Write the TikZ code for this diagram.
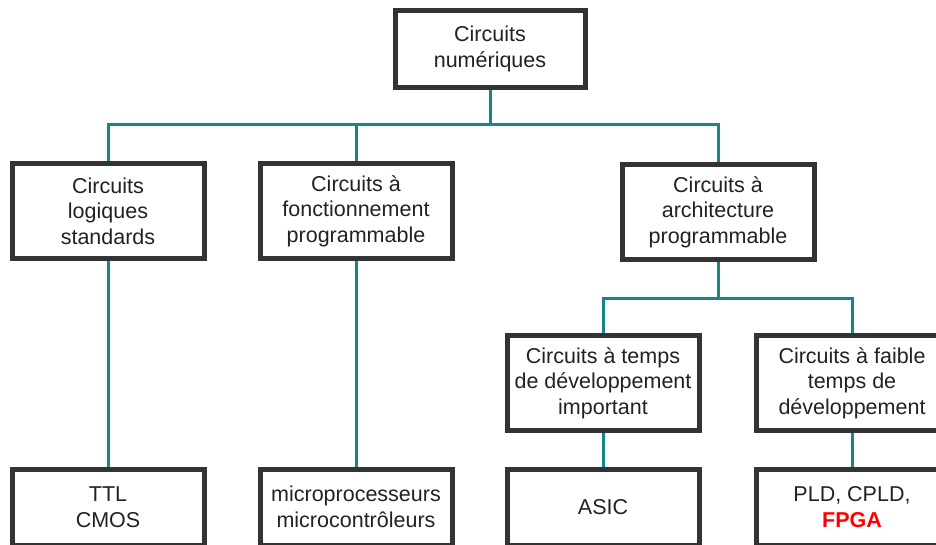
\documentclass[tikz,border=0pt]{standalone}
\usepackage{fontspec}
\setmainfont{Liberation Sans}
\usetikzlibrary{positioning}

\definecolor{bordo}{RGB}{51,51,51}
\definecolor{lien}{RGB}{22,134,134}
\definecolor{texte}{RGB}{34,34,34}

\tikzset{
    boite/.style={draw=bordo, line width=5pt, fill=white, text=texte,
        minimum width=192pt, minimum height=95pt, align=center,
        font=\fontsize{21.5}{25.5}\selectfont},
    lien/.style={draw=lien, line width=3pt}
}

\begin{document}
\begin{tikzpicture}[x=1pt,y=-1pt]
            \useasboundingbox (0,0) rectangle (936,544);

            \coordinate (j1) at (490,124);
            \coordinate (j2) at (718,298);

            \node[boite, minimum width=190pt, minimum height=77pt] (num) at (490,49) {Circuits\\numériques};

            \node[boite] (std) at (108,211) {Circuits\\logiques\\standards};
            \node[boite] (fonc) at (356,211) {Circuits à\\fonctionnement\\programmable};
            \node[boite] (arch) at (718,212) {Circuits à\\architecture\\programmable};

            \node[boite] (imp) at (603,383) {Circuits à temps\\de développement\\important};
            \node[boite] (faib) at (852,383) {Circuits à faible\\temps de\\développement};

            \node[boite, minimum height=76pt] (ttl) at (108,507) {TTL\\CMOS};
            \node[boite, minimum height=76pt] (micro) at (356,507) {microprocesseurs\\microcontrôleurs};
            \node[boite, minimum height=76pt] (asic) at (603,507) {ASIC};
            \node[boite, minimum height=76pt] (pld) at (852,507) {PLD, CPLD,\\\textcolor{red}{\textbf{FPGA}}};

            \draw[lien] (num) -- (j1);
            \draw[lien] (j1) -| (std);
            \draw[lien] (j1) -| (fonc);
            \draw[lien] (j1) -| (arch);

            \draw[lien] (arch) -- (j2);
            \draw[lien] (j2) -| (imp);
            \draw[lien] (j2) -| (faib);

            \draw[lien] (std) -- (ttl);
            \draw[lien] (fonc) -- (micro);
            \draw[lien] (imp) -- (asic);
            \draw[lien] (faib) -- (pld);

        \end{tikzpicture}
\end{document}
